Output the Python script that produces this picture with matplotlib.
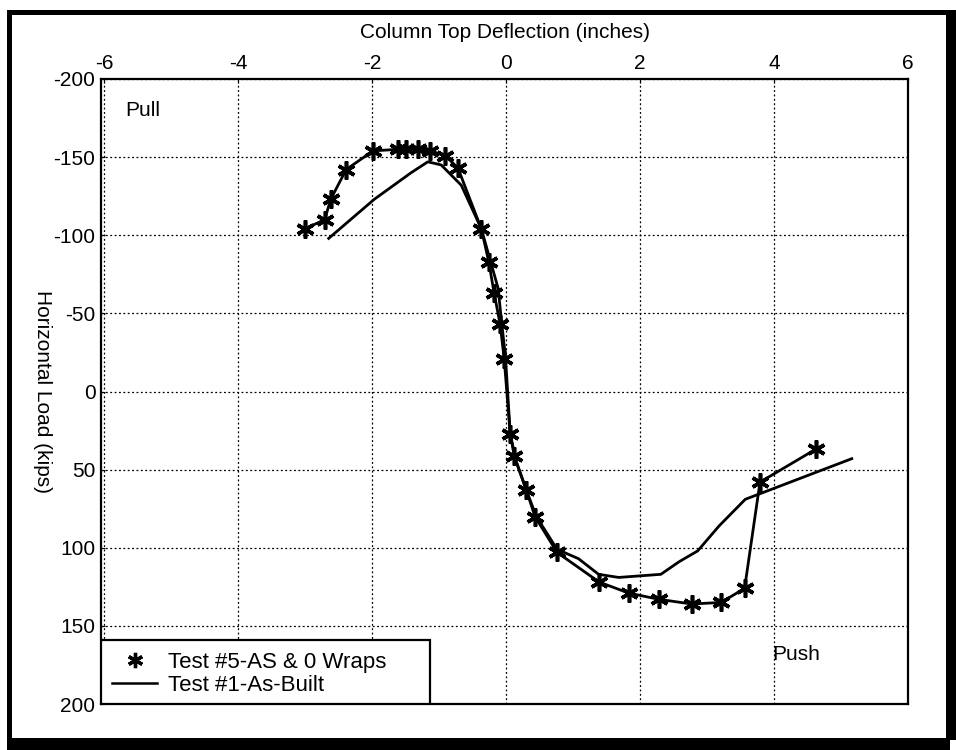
import matplotlib
matplotlib.use("Agg")
import matplotlib.pyplot as plt
from matplotlib.lines import Line2D
from matplotlib.patches import Rectangle

# Test #5-AS & 0 Wraps (asterisk markers)
t5_defl = [-3.01, -2.71, -2.62, -2.39, -1.99, -1.61, -1.50, -1.32, -1.13, -0.91, -0.72,
           -0.37, -0.26, -0.18, -0.09, -0.03, 0.06, 0.12, 0.30, 0.43, 0.76, 1.39, 1.83,
           2.28, 2.77, 3.21, 3.56, 3.79, 4.62]
t5_load = [-104, -110, -123, -142, -154, -155, -155, -155, -154, -151, -143,
           -104, -83, -63, -43, -21, 27, 41, 63, 80, 103, 122, 129,
           133, 136, 135, 126, 58, 37]

# Test #1-As-Built (solid line)
t1_defl = [-2.65, -1.97, -1.42, -1.17, -0.97, -0.67, -0.37, -0.12, -0.07, -0.01, 0.06,
           0.15, 0.30, 0.45, 0.76, 1.08, 1.38, 1.68, 2.31, 2.58, 2.86, 3.18, 3.57, 5.16]
t1_load = [-98, -123, -140, -147, -145, -132, -104, -66, -45, -22, 27,
           45, 63, 80, 101, 107, 117, 119, 117, 109, 102, 86, 69, 43]

x_ticks = [-6, -4, -2, 0, 2, 4, 6]
y_ticks = [-200, -150, -100, -50, 0, 50, 100, 150, 200]

plt.rcParams['font.family'] = ['Liberation Sans', 'DejaVu Sans']
plt.rcParams['axes.unicode_minus'] = False

fig = plt.figure(figsize=(9.56, 7.5), dpi=100)
W, H = 956, 750
AX0, AX1, AY0, AY1 = 101, 908, 79, 704
ax = fig.add_axes([AX0 / W, 1 - AY1 / H, (AX1 - AX0) / W, (AY1 - AY0) / H])

def axfx(px):
    return (px - AX0) / (AX1 - AX0)

def axfy(py):
    return (AY1 - py) / (AY1 - AY0)

ast = (6, 2, 0)
ax.plot(t5_defl, t5_load, color='black', lw=2.0, marker=ast, markersize=13,
        markeredgewidth=2.6, label='Test #5-AS & 0 Wraps')
ax.plot(t1_defl, t1_load, color='black', lw=2.0, label='Test #1-As-Built')

ax.set_xlim(-6.05, 6)
ax.set_ylim(200, -200)
ax.set_xticks(x_ticks)
ax.set_yticks(y_ticks)
ax.xaxis.tick_top()
ax.xaxis.set_label_position('top')
ax.tick_params(axis='both', direction='in', length=3, labelsize=15, colors='black', pad=4)
ax.set_xlabel('Column Top Deflection (inches)', fontsize=15, labelpad=12)
ax.set_ylabel('Horizontal Load (kips)', fontsize=15, rotation=270, labelpad=15)
ax.grid(True, color='black', linestyle=(0, (1.5, 2)), linewidth=0.9)
for s in ax.spines.values():
    s.set_linewidth(1.6)
    s.set_color('black')

ax.text(axfx(125), axfy(110), 'Pull', transform=ax.transAxes, fontsize=15,
        va='center', ha='left')
ax.text(axfx(772), axfy(655), 'Push', transform=ax.transAxes, fontsize=15,
        va='center', ha='left')

# legend box
ax.add_patch(Rectangle((0, 0), axfx(430), axfy(640), transform=ax.transAxes,
                       facecolor='white', edgecolor='black', lw=1.6, zorder=4))
handles = [Line2D([], [], color='black', lw=0, marker=ast, markersize=11, markeredgewidth=2.4),
           Line2D([], [], color='black', lw=1.8)]
leg = ax.legend(handles, ['Test #5-AS & 0 Wraps', 'Test #1-As-Built'], loc='center left',
                bbox_to_anchor=(axfx(108), axfy(674)), fontsize=16, frameon=False,
                borderaxespad=0, handlelength=2.0, handletextpad=0.5, borderpad=0.2,
                labelspacing=0.1)
leg.set_zorder(5)

# outer thick border
def bar(x0, y0, x1, y1):
    fig.add_artist(Rectangle((x0 / W, 1 - y1 / H), (x1 - x0) / W, (y1 - y0) / H,
                             transform=fig.transFigure, color='black', lw=0))
bar(7, 10, 950, 15)
bar(7, 10, 12, 740)
bar(7, 738, 950, 750)
bar(946, 10, 956, 740)

fig.savefig('out.png', dpi=100)
